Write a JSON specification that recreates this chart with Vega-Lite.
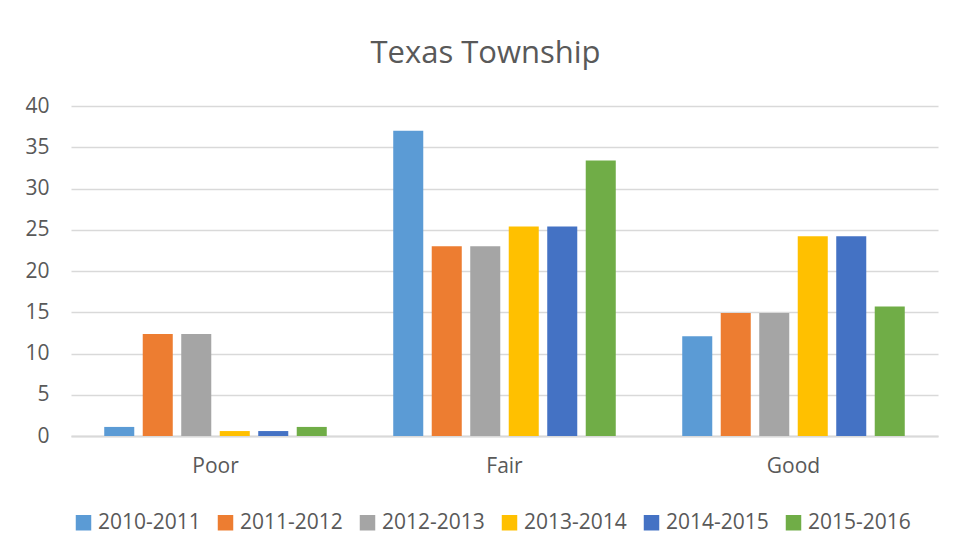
{
  "$schema": "https://vega.github.io/schema/vega-lite/v6.json",
  "width": 867,
  "height": 330,
  "autosize": "none",
  "padding": {"left": 71, "top": 106, "right": 18, "bottom": 118},
  "background": "white",
  "title": {"text": "Texas Township", "fontSize": 31, "font": "Open Sans", "fontWeight": "normal", "color": "#595959", "anchor": "middle", "offset": 25, "dx": -19},
  "data": {"values": [
    {"rating": "Poor", "year": "2010-2011", "value": 1.1},
    {"rating": "Poor", "year": "2011-2012", "value": 12.35},
    {"rating": "Poor", "year": "2012-2013", "value": 12.35},
    {"rating": "Poor", "year": "2013-2014", "value": 0.6},
    {"rating": "Poor", "year": "2014-2015", "value": 0.6},
    {"rating": "Poor", "year": "2015-2016", "value": 1.1},
    {"rating": "Fair", "year": "2010-2011", "value": 37.0},
    {"rating": "Fair", "year": "2011-2012", "value": 23.0},
    {"rating": "Fair", "year": "2012-2013", "value": 23.0},
    {"rating": "Fair", "year": "2013-2014", "value": 25.4},
    {"rating": "Fair", "year": "2014-2015", "value": 25.4},
    {"rating": "Fair", "year": "2015-2016", "value": 33.4},
    {"rating": "Good", "year": "2010-2011", "value": 12.1},
    {"rating": "Good", "year": "2011-2012", "value": 14.9},
    {"rating": "Good", "year": "2012-2013", "value": 14.9},
    {"rating": "Good", "year": "2013-2014", "value": 24.2},
    {"rating": "Good", "year": "2014-2015", "value": 24.2},
    {"rating": "Good", "year": "2015-2016", "value": 15.7}
  ]},
  "mark": {"type": "bar"},
  "encoding": {
    "x": {
      "field": "rating", "type": "nominal", "sort": ["Poor", "Fair", "Good"],
      "scale": {"paddingInner": 0.23, "paddingOuter": 0.115},
      "axis": {"title": null, "labelAngle": 0, "ticks": false, "domainColor": "#d9d9d9", "domainWidth": 2, "labelFontSize": 21, "labelFont": "Open Sans", "labelColor": "#595959", "labelPadding": 19}
    },
    "xOffset": {
      "field": "year", "type": "nominal",
      "scale": {"paddingInner": 0.22, "paddingOuter": 0}
    },
    "y": {
      "field": "value", "type": "quantitative",
      "scale": {"domain": [0, 40]},
      "axis": {"title": null, "values": [0, 5, 10, 15, 20, 25, 30, 35, 40], "domain": false, "ticks": false, "gridColor": "#d9d9d9", "gridWidth": 1.5, "labelFontSize": 21, "labelFont": "Open Sans", "labelColor": "#595959", "labelPadding": 22}
    },
    "color": {
      "field": "year", "type": "nominal",
      "scale": {"domain": ["2010-2011", "2011-2012", "2012-2013", "2013-2014", "2014-2015", "2015-2016"], "range": ["#5B9BD5", "#ED7D31", "#A5A5A5", "#FFC000", "#4472C4", "#70AD47"]},
      "legend": {"title": null, "orient": "none", "direction": "horizontal", "columns": 6, "legendX": 2, "legendY": 406, "symbolType": "square", "symbolSize": 240, "symbolStrokeWidth": 0, "labelFontSize": 21, "labelFont": "Open Sans", "labelColor": "#595959", "columnPadding": 14, "labelOffset": 4, "padding": 0}
    }
  },
  "config": {"view": {"stroke": null}}
}
